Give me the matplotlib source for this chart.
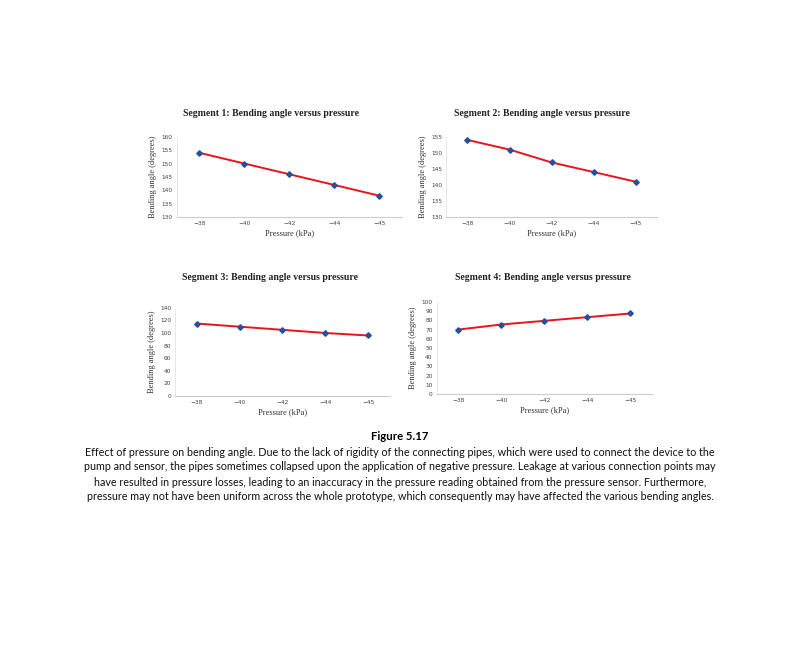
import matplotlib
matplotlib.use("Agg")
from matplotlib import pyplot as plt

# pressure categories (kPa) and bending angles per segment
pressure = ["\u221238", "\u221240", "\u221242", "\u221244", "\u221245"]
seg1 = [154, 150, 146, 142, 138]
seg2 = [154, 151, 147, 144, 141]
seg3 = [115, 110, 105, 100, 96]
seg4 = [70, 75.5, 79.5, 83.5, 87.5]

titles = ["Segment 1: Bending angle versus pressure",
          "Segment 2: Bending angle versus pressure",
          "Segment 3: Bending angle versus pressure",
          "Segment 4: Bending angle versus pressure"]
yticks = [list(range(130, 161, 5)), list(range(130, 156, 5)),
          list(range(0, 141, 20)), list(range(0, 101, 10))]

fig = plt.figure(figsize=(8, 6.48), dpi=100)

# [left, bottom, width, height] for each panel
boxes = [[0.221, 0.665, 0.281, 0.124],
         [0.558, 0.665, 0.263, 0.124],
         [0.219, 0.389, 0.268, 0.136],
         [0.546, 0.392, 0.269, 0.142]]
title_pos = [(271, 114), (542, 114), (270, 277), (543, 277)]

serif = "Liberation Serif"

for i, series in enumerate([seg1, seg2, seg3, seg4]):
    ax = fig.add_axes(boxes[i])
    x = list(range(len(pressure)))
    ax.plot(x, series, color="#e8141c", lw=1.4, zorder=2)
    ax.plot(x, series, "D", color="#2a4f9a", ms=2.8, zorder=3)
    ax.set_xlim(-0.5, len(pressure) - 0.5)
    ax.set_ylim(yticks[i][0], yticks[i][-1])
    ax.set_yticks(yticks[i])
    ax.set_xticks(x)
    ax.set_xticklabels(pressure)
    ax.tick_params(labelsize=4.2, length=0, colors="#444444", pad=3)
    for s in ["top", "right"]:
        ax.spines[s].set_visible(False)
    ax.spines["left"].set_color("#e4e4e4")
    ax.spines["left"].set_linewidth(0.6)
    ax.spines["bottom"].set_color("#cccccc")
    ax.spines["bottom"].set_linewidth(0.8)
    ax.set_xlabel("Pressure (kPa)", family=serif, fontsize=6, labelpad=2, color="#333333")
    ax.set_ylabel("Bending angle (degrees)", family=serif, fontsize=6, labelpad=3, color="#333333")
    tx, ty = title_pos[i]
    fig.text(tx / 800, 1 - ty / 648, titles[i],
             family=serif, fontweight="bold", fontsize=7, ha="center", va="center",
             color="#222222")

fig.text(0.5, 1 - 437 / 648, "Figure 5.17", family="Lato", fontweight="bold",
         fontsize=8.2, ha="center", va="center")
caption = [
    "Effect of pressure on bending angle. Due to the lack of rigidity of the connecting pipes, which were used to connect the device to the",
    "pump and sensor, the pipes sometimes collapsed upon the application of negative pressure. Leakage at various connection points may",
    "have resulted in pressure losses, leading to an inaccuracy in the pressure reading obtained from the pressure sensor. Furthermore,",
    "pressure may not have been uniform across the whole prototype, which consequently may have affected the various bending angles.",
]
for k, line in enumerate(caption):
    fig.text(0.5, 1 - (452 + 15 * k) / 648, line, family="Lato", fontsize=7.75,
             ha="center", va="center", color="#111111")

fig.savefig("out.png", dpi=100)
